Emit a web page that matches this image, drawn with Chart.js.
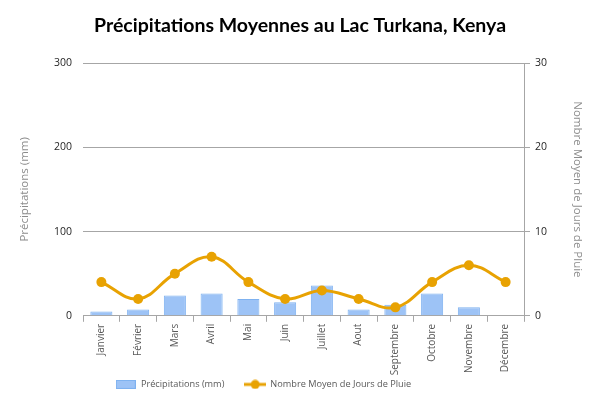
<!DOCTYPE html>
<html>
<head>
<meta charset="utf-8">
<script src="https://cdn.jsdelivr.net/npm/chart.js@4"></script>
<style>
  html, body { margin: 0; padding: 0; background: #fff; }
  #wrap { width: 600px; height: 399px; }
</style>
</head>
<body>
<div id="wrap"><canvas id="pluie"></canvas></div>
<script>
const months = ['Janvier', 'Février', 'Mars', 'Avril', 'Mai', 'Juin', 'Juillet', 'Aout', 'Septembre', 'Octobre', 'Novembre', 'Décembre'];
const precipMm = [5, 7.5, 24, 26.5, 20, 16, 36, 7.5, 13, 26.5, 10, 0];
const rainDays = [4, 2, 5, 7, 4, 2, 3, 2, 1, 4, 6, 4];
const mmTicks = [0, 100, 200, 300];
const dayTicks = [0, 10, 20, 30];

const BAR_FILL = '#9dc3f6';
const BAR_EDGE = '#7fb2f0';
const LINE_COL = '#e8a202';
const GRID = '#a6a6a6';

// legend icons drawn on little canvases
function barIcon() {
    const c = document.createElement('canvas');
    c.width = 20; c.height = 9;
    const g = c.getContext('2d');
    g.fillStyle = BAR_FILL;
    g.fillRect(0, 0, 20, 9);
    g.strokeStyle = BAR_EDGE;
    g.strokeRect(0.5, 0.5, 19, 8);
    return c;
}
function lineIcon() {
    const c = document.createElement('canvas');
    c.width = 22; c.height = 10;
    const g = c.getContext('2d');
    g.strokeStyle = LINE_COL;
    g.lineWidth = 3;
    g.beginPath(); g.moveTo(0, 5); g.lineTo(22, 5); g.stroke();
    g.fillStyle = LINE_COL;
    g.beginPath(); g.arc(11, 5, 4.5, 0, Math.PI * 2); g.fill();
    return c;
}
const icons = [barIcon(), lineIcon()];
// extra blank space after each legend entry (gap between items, shift of the row)
const legendTail = ['\u2003\u2003', '\u2003\u2003\u2003\u2003\u2003\u2003\u2003\u2003'];

const ctx = document.getElementById('pluie');
const pluieChart = new Chart(ctx, {
    data: {
        labels: months,
        datasets: [{
            type: 'line',
            label: 'Nombre Moyen de Jours de Pluie',
            data: rainDays,
            yAxisID: 'yDays',
            borderColor: LINE_COL,
            backgroundColor: LINE_COL,
            borderWidth: 3,
            pointRadius: 5,
            pointBackgroundColor: LINE_COL,
            pointBorderWidth: 0,
            tension: 0.4,
            order: 0
        }, {
            type: 'bar',
            label: 'Précipitations (mm)',
            data: precipMm,
            yAxisID: 'yMm',
            backgroundColor: BAR_FILL,
            borderColor: BAR_EDGE,
            borderWidth: 1,
            barPercentage: 0.6,
            categoryPercentage: 1,
            order: 1
        }]
    },
    options: {
        responsive: true,
        maintainAspectRatio: false,
        animation: false,
        layout: { padding: 0 },
        font: { family: "'Open Sans', sans-serif" },
        plugins: {
            title: {
                display: true,
                text: 'Précipitations Moyennes au Lac Turkana, Kenya',
                color: '#000',
                font: { family: 'Lato', size: 19.5, weight: 'bold', lineHeight: 1.2 },
                padding: { top: 14.5, bottom: 25.1 }
            },
            legend: {
                position: 'bottom',
                reverse: true,
                labels: {
                    color: '#595959',
                    font: { family: "'Open Sans', sans-serif", size: 9.2 },
                    usePointStyle: true,
                    pointStyleWidth: 21,
                    boxHeight: 10,
                    padding: 2,
                    generateLabels(chart) {
                        return chart.data.datasets.map((ds, i) => ({
                            text: ds.label + legendTail[ds.type === 'bar' ? 0 : 1],
                            datasetIndex: i,
                            pointStyle: icons[ds.type === 'bar' ? 0 : 1],
                            fillStyle: ds.backgroundColor,
                            strokeStyle: ds.borderColor,
                            lineWidth: 0,
                            fontColor: '#595959',
                            hidden: false
                        }));
                    }
                }
            },
            tooltip: { enabled: false }
        },
        scales: {
            x: {
                offset: true,
                grid: { display: true, drawOnChartArea: false, offset: true, color: GRID, tickLength: 6 },
                border: { display: true, color: GRID },
                ticks: {
                    color: '#595959',
                    font: { family: "'Open Sans', sans-serif", size: 10 },
                    minRotation: 90,
                    maxRotation: 90,
                    autoSkip: false,
                    padding: 2
                },
                afterFit(s) { s.height = 62; }
            },
            yMm: {
                position: 'left',
                min: 0,
                max: 300,
                afterBuildTicks(s) { s.ticks = mmTicks.map(v => ({ value: v })); },
                grid: { color: GRID, drawTicks: false },
                border: { display: false },
                ticks: {
                    color: '#262626',
                    font: { family: "'Open Sans', sans-serif", size: 10.5 },
                    padding: 11
                },
                title: {
                    display: true,
                    text: 'Précipitations (mm)',
                    color: '#8c8c8c',
                    font: { family: "'Open Sans', sans-serif", size: 11.5 },
                    padding: 18
                },
                afterFit(s) { s.width = 83; }
            },
            yDays: {
                position: 'right',
                min: 0,
                max: 30,
                afterBuildTicks(s) { s.ticks = dayTicks.map(v => ({ value: v })); },
                grid: { drawOnChartArea: false, color: GRID, tickLength: 6 },
                border: { display: true, color: GRID },
                ticks: {
                    color: '#262626',
                    font: { family: "'Open Sans', sans-serif", size: 10.5 },
                    padding: 5
                },
                title: {
                    display: true,
                    text: 'Nombre Moyen de Jours de Pluie',
                    color: '#8c8c8c',
                    font: { family: "'Open Sans', sans-serif", size: 11.5 },
                    padding: 16
                },
                afterFit(s) { s.width = 76; }
            }
        }
    }
});
</script>
</body>
</html>
